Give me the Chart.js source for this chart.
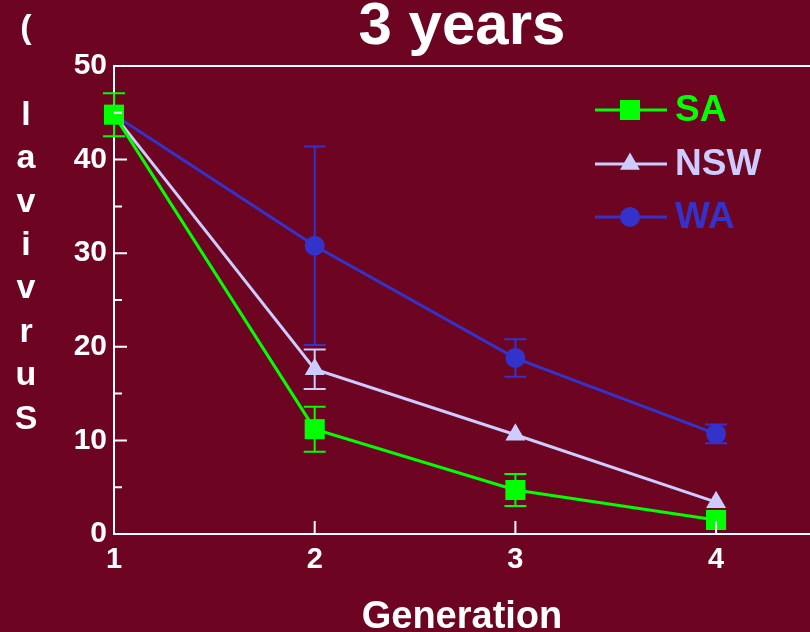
<!DOCTYPE html>
<html lang="en">
<head>
    <meta charset="UTF-8">
    <title>3 years</title>
    <script src="https://cdn.jsdelivr.net/npm/chart.js"></script>
    <style>
        html, body {
            margin: 0;
            padding: 0;
            background-color: #6c0422;
        }
        .chart-container {
            position: relative;
            width: 810px;
            height: 632px;
        }
    </style>
</head>
<body>
    <div class="chart-container">
        <canvas id="survivalChart"></canvas>
    </div>

    <script>
        // values
        const generations = [1, 2, 3, 4];
        const saMean = [44.8, 11.2, 4.7, 1.5];
        const saErr = [2.3, 2.4, 1.7, 0];
        const nswMean = [44.8, 17.6, 10.6, 3.4];
        const nswErr = [0, 2.1, 0, 0];
        const waMean = [44.8, 30.8, 18.8, 10.7];
        const waErr = [0, 10.6, 2.0, 1.0];
        const yMajorTicks = [0, 10, 20, 30, 40, 50];
        const yMinorTicks = [5, 15, 25, 35, 45];
        const xMajorTicks = [2, 3, 4];
        const yTitleLetters = ['(', '', 'l', 'a', 'v', 'i', 'v', 'r', 'u', 'S'];

        const WHITE = '#ffffff';
        const FONT = 'Arial, "Liberation Sans", sans-serif';

        const toPoints = (xs, ys) => xs.map((x, i) => ({ x: x, y: ys[i] }));

        const series = [
            { label: 'SA', mean: saMean, err: saErr, color: '#00ff00', style: 'rect', radius: 14.2 },
            { label: 'NSW', mean: nswMean, err: nswErr, color: '#ccccff', style: 'triangle', radius: 11.5 },
            { label: 'WA', mean: waMean, err: waErr, color: '#3333cc', style: 'circle', radius: 10 }
        ];

        // error bars, drawn under the markers
        const errorBars = {
            id: 'errorBars',
            beforeDatasetsDraw(chart) {
                const ctx = chart.ctx;
                const xs = chart.scales.x, ys = chart.scales.y;
                ctx.save();
                ctx.lineWidth = 2;
                series.slice().reverse().forEach(s => {
                    ctx.strokeStyle = s.color;
                    generations.forEach((g, i) => {
                        if (!s.err[i]) return;
                        const px = xs.getPixelForValue(g);
                        const top = ys.getPixelForValue(s.mean[i] + s.err[i]);
                        const bot = ys.getPixelForValue(s.mean[i] - s.err[i]);
                        ctx.beginPath();
                        ctx.moveTo(px, top); ctx.lineTo(px, bot);
                        ctx.moveTo(px - 11, top); ctx.lineTo(px + 11, top);
                        ctx.moveTo(px - 11, bot); ctx.lineTo(px + 11, bot);
                        ctx.stroke();
                    });
                });
                ctx.restore();
            }
        };

        // inward ticks, top frame line, stacked y title and legend
        const decorations = {
            id: 'decorations',
            afterDatasetsDraw(chart) {
                const ctx = chart.ctx;
                const xs = chart.scales.x, ys = chart.scales.y;
                const area = chart.chartArea;
                ctx.save();
                ctx.strokeStyle = WHITE;
                ctx.lineWidth = 2;
                ctx.beginPath();
                yMajorTicks.forEach(v => {
                    const py = ys.getPixelForValue(v);
                    ctx.moveTo(area.left, py); ctx.lineTo(area.left + 13, py);
                });
                yMinorTicks.forEach(v => {
                    const py = ys.getPixelForValue(v);
                    ctx.moveTo(area.left, py); ctx.lineTo(area.left + 8, py);
                });
                xMajorTicks.forEach(v => {
                    const px = xs.getPixelForValue(v);
                    ctx.moveTo(px, area.bottom); ctx.lineTo(px, area.bottom - 13);
                });
                ctx.moveTo(area.left, area.top); ctx.lineTo(area.right, area.top);
                ctx.stroke();

                // y title: letters stacked
                ctx.fillStyle = WHITE;
                ctx.font = 'bold 34px ' + FONT;
                ctx.textAlign = 'center';
                ctx.textBaseline = 'alphabetic';
                yTitleLetters.forEach((ch, i) => {
                    ctx.fillText(ch, 26, 38 + i * 43.4);
                });

                // legend
                const rows = [110, 164, 217];
                series.forEach((s, i) => {
                    const y = rows[i];
                    ctx.strokeStyle = s.color;
                    ctx.lineWidth = 3;
                    ctx.beginPath();
                    ctx.moveTo(595, y); ctx.lineTo(667, y);
                    ctx.stroke();
                    ctx.fillStyle = s.color;
                    Chart.helpers.drawPoint(ctx, {
                        pointStyle: s.style, radius: s.radius, rotation: 0, borderWidth: 0
                    }, 630, y);
                    ctx.font = 'bold 37px ' + FONT;
                    ctx.textAlign = 'left';
                    ctx.textBaseline = 'middle';
                    ctx.fillText(s.label, 675, y + 1);
                });
                ctx.restore();
            }
        };

        const survivalChart = new Chart(document.getElementById('survivalChart'), {
            type: 'line',
            data: {
                datasets: series.map(s => ({
                    label: s.label,
                    data: toPoints(generations, s.mean),
                    borderColor: s.color,
                    backgroundColor: s.color,
                    borderWidth: 3,
                    pointStyle: s.style,
                    pointRadius: s.radius,
                    pointBorderWidth: 0,
                    pointHoverRadius: s.radius,
                    tension: 0,
                    clip: false
                }))
            },
            options: {
                responsive: true,
                maintainAspectRatio: false,
                animation: false,
                layout: { padding: 0, autoPadding: false },
                plugins: {
                    legend: { display: false },
                    tooltip: { enabled: false },
                    title: {
                        display: true,
                        text: '3 years',
                        color: WHITE,
                        fullSize: false,
                        font: { family: FONT, size: 60, weight: 'bold', lineHeight: 0.8 },
                        padding: { top: 3, bottom: 15 }
                    }
                },
                scales: {
                    x: {
                        type: 'linear',
                        min: 1,
                        max: 4.468,
                        afterFit: s => {
                            s.height = 98;
                            s.paddingLeft = 0;
                            s.paddingRight = 0;
                        },
                        grid: { display: false, drawTicks: false },
                        border: { color: WHITE, width: 2 },
                        ticks: {
                            stepSize: 1,
                            includeBounds: false,
                            color: WHITE,
                            padding: 9,
                            font: { family: FONT, size: 29, weight: 'bold' }
                        },
                        title: {
                            display: true,
                            text: 'Generation',
                            color: WHITE,
                            padding: { top: 0, bottom: -3 },
                            font: { family: FONT, size: 38, weight: 'bold', lineHeight: 0.9 }
                        }
                    },
                    y: {
                        min: 0,
                        max: 50,
                        afterFit: s => { s.width = 114; },
                        grid: { display: false, drawTicks: false },
                        border: { color: WHITE, width: 2 },
                        ticks: {
                            stepSize: 10,
                            color: WHITE,
                            padding: 7,
                            font: { family: FONT, size: 30, weight: 'bold' }
                        }
                    }
                }
            },
            plugins: [errorBars, decorations]
        });
    </script>
</body>
</html>
